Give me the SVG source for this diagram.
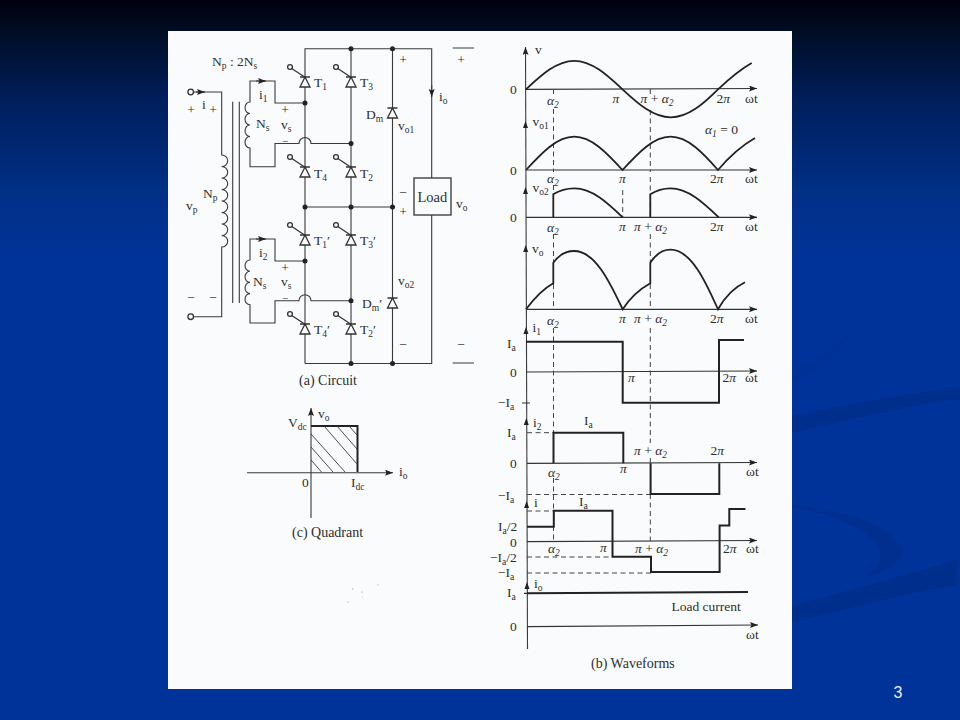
<svg xmlns="http://www.w3.org/2000/svg" xmlns:xlink="http://www.w3.org/1999/xlink" width="960" height="720" viewBox="0 0 960 720">
<style>
text{font-family:"Liberation Serif","DejaVu Serif",serif;font-size:13.5px;fill:#2e2e2e}
.b{font-size:9.5px}
.g{font-style:italic}
.c{font-size:14px}
.m{font-size:11px}
.w{fill:none;stroke:#3a3a3a;stroke-width:1.1}
.h{fill:none;stroke:#222;stroke-width:2}
.n{fill:none;stroke:#333;stroke-width:1.2}
.d{fill:none;stroke:#444;stroke-width:1;stroke-dasharray:5 3.5}
.dot{fill:#222}
.part{fill:#fafbfc;stroke:#333;stroke-width:1.3}
.sw{fill:#002e8c}
</style>
<defs>
<linearGradient id="bg" x1="0" y1="0" x2="0" y2="1">
<stop offset="0" stop-color="#00000f"/><stop offset=".03" stop-color="#000a1c"/><stop offset=".14" stop-color="#001f5c"/><stop offset=".27" stop-color="#003088"/><stop offset=".36" stop-color="#003399"/><stop offset="1" stop-color="#003399"/>
</linearGradient>
<marker id="ar" markerUnits="userSpaceOnUse" markerWidth="10" markerHeight="8" refX="8" refY="3" orient="auto"><path d="M0 0L8 3L0 6L1.5 3Z" fill="#222"/></marker>
<g id="dio"><path class="part" d="M-5 0H5M0 0L-5 10H5Z"/></g>
<g id="thy"><use xlink:href="#dio"/><circle class="part" cx="-15" cy="-10" r="2.4"/><path class="n" d="M-13.2 -8.6L1 1"/></g>
</defs>
<rect width="960" height="720" fill="url(#bg)"/>
<path class="sw" d="M792 372C815 362 840 345 856 323C850 345 825 368 792 380Z" opacity=".35"/>
<path class="sw" d="M792 416C850 404 900 394 960 388V399C900 406 850 420 792 433Z"/>
<path class="sw" d="M792 504C840 512 885 520 903 548C905 562 885 572 862 578C880 568 884 555 878 545C860 525 825 512 792 508Z" opacity=".7"/>
<path class="sw" d="M792 606C850 590 905 575 957 560V585C900 595 850 608 792 622Z"/>
<rect x="168" y="31" width="624" height="658" fill="#fafbfc"/>

<g id="connectors">
<path class="w" d="M431.7 178V48.7H305V207M351 48.7V207M392.5 48.7V207M305 207H392.5"/>
<path class="w" d="M392.5 207V363.5M305 207V363.5M351 207V363.5M305 363.5H431.7V215"/>
<path class="w" d="M191 92H221.7V155a6 5.75 0 0 1 0 11.5a6 5.75 0 0 1 0 11.5a6 5.75 0 0 1 0 11.5a6 5.75 0 0 1 0 11.5a6 5.75 0 0 1 0 11.5a6 5.75 0 0 1 0 11.5a6 5.75 0 0 1 0 11.5a6 5.75 0 0 1 0 11.5V316.7H191"/>
<path class="w" d="M232.7 101.7V303M239.3 101.7V303"/>
<path class="w" d="M305 103H275V81H250V102a5 5.75 0 0 0 0 11.5a5 5.75 0 0 0 0 11.5a5 5.75 0 0 0 0 11.5a5 5.75 0 0 0 0 11.5V166.7H275V143.5H299a6 6 0 0 1 12 0H351"/>
<path class="w" d="M305 261H275V239H250V260a5 5.6 0 0 0 0 11.2a5 5.6 0 0 0 0 11.2a5 5.6 0 0 0 0 11.2a5 5.6 0 0 0 0 11.2V323H275V300.7H299a6 6 0 0 1 12 0H351"/>
<path class="w" d="M452.7 48H474M452.7 363H474" />
<path class="w" d="M196 92H205" marker-end="url(#ar)"/>
<path class="w" d="M256 81H266" marker-end="url(#ar)"/>
<path class="w" d="M256 239H266" marker-end="url(#ar)"/>
<path class="w" d="M431.7 85V97" marker-end="url(#ar)"/>
</g>

<g id="n-t1"><use xlink:href="#thy" x="305" y="77"/></g>
<g id="n-t3"><use xlink:href="#thy" x="351" y="77"/></g>
<g id="n-t4"><use xlink:href="#thy" x="305" y="167"/></g>
<g id="n-t2"><use xlink:href="#thy" x="351" y="167"/></g>
<g id="n-t1p"><use xlink:href="#thy" x="305" y="235"/></g>
<g id="n-t3p"><use xlink:href="#thy" x="351" y="235"/></g>
<g id="n-t4p"><use xlink:href="#thy" x="305" y="324"/></g>
<g id="n-t2p"><use xlink:href="#thy" x="351" y="324"/></g>
<g id="n-dm"><use xlink:href="#dio" x="392.5" y="108"/></g>
<g id="n-dmp"><use xlink:href="#dio" x="392.5" y="298"/></g>
<g id="n-load"><rect class="part" x="414" y="178" width="37" height="37"/><text x="417.5" y="202" style="font-size:14.5px">Load</text></g>
<g id="n-terminals"><circle class="part" cx="190.7" cy="92" r="2.8"/><circle class="part" cx="190.7" cy="316.7" r="2.8"/></g>
<g id="n-dots" class="dot">
<circle cx="351" cy="48.7" r="2.5"/><circle cx="392.5" cy="48.7" r="2.5"/><circle cx="305" cy="103" r="2.5"/><circle cx="351" cy="143.5" r="2.5"/>
<circle cx="305" cy="207" r="2.5"/><circle cx="351" cy="207" r="2.5"/><circle cx="392.5" cy="207" r="2.5"/><circle cx="305" cy="261" r="2.5"/><circle cx="351" cy="300.7" r="2.5"/>
<circle cx="351" cy="363.5" r="2.5"/><circle cx="392.5" cy="363.5" r="2.5"/>
</g>

<g id="circuit-labels">
<text x="212" y="66">N<tspan class="b" dy="3">p</tspan><tspan dy="-3"> : 2N</tspan><tspan class="b" dy="3">s</tspan></text>
<text x="314" y="87">T<tspan class="b" dy="3">1</tspan></text><text x="360" y="87">T<tspan class="b" dy="3">3</tspan></text>
<text x="314" y="178">T<tspan class="b" dy="3">4</tspan></text><text x="360" y="178">T<tspan class="b" dy="3">2</tspan></text>
<text x="314" y="245">T<tspan class="b" dy="3">1</tspan><tspan dy="-3">′</tspan></text><text x="360" y="245">T<tspan class="b" dy="3">3</tspan><tspan dy="-3">′</tspan></text>
<text x="314" y="334">T<tspan class="b" dy="3">4</tspan><tspan dy="-3">′</tspan></text><text x="360" y="334">T<tspan class="b" dy="3">2</tspan><tspan dy="-3">′</tspan></text>
<text x="366" y="119">D<tspan class="b" dy="3">m</tspan></text><text x="398" y="130">v<tspan class="b" dy="3">o1</tspan></text>
<text x="362" y="308">D<tspan class="b" dy="3">m</tspan><tspan dy="-3">′</tspan></text><text x="398" y="285">v<tspan class="b" dy="3">o2</tspan></text>
<text x="439" y="101">i<tspan class="b" dy="3">o</tspan></text><text x="456" y="208">v<tspan class="b" dy="3">o</tspan></text>
<text x="403" y="64" text-anchor="middle">+</text><text x="461" y="64" text-anchor="middle">+</text>
<text x="403" y="197" text-anchor="middle">−</text><text x="403" y="216" text-anchor="middle">+</text>
<text x="403" y="349" text-anchor="middle">−</text><text x="461" y="349" text-anchor="middle">−</text>
<text x="259" y="99">i<tspan class="b" dy="3">1</tspan></text><text x="256" y="128">N<tspan class="b" dy="3">s</tspan></text>
<text x="285" y="114" text-anchor="middle">+</text><text x="281" y="129">v<tspan class="b" dy="3">s</tspan></text><text class="m" x="285" y="145" text-anchor="middle">−</text>
<text x="259" y="257">i<tspan class="b" dy="3">2</tspan></text><text x="253" y="286">N<tspan class="b" dy="3">s</tspan></text>
<text x="285" y="272" text-anchor="middle">+</text><text x="281" y="286">v<tspan class="b" dy="3">s</tspan></text><text class="m" x="285" y="302" text-anchor="middle">−</text>
<text x="191" y="114" text-anchor="middle">+</text><text x="202" y="109">i</text><text x="213" y="114" text-anchor="middle">+</text>
<text x="186" y="210">v<tspan class="b" dy="3">p</tspan></text><text x="203" y="198">N<tspan class="b" dy="3">p</tspan></text>
<text x="191" y="302" text-anchor="middle">−</text><text x="213" y="302" text-anchor="middle">−</text>
<text class="c" x="299" y="385">(a) Circuit</text>
</g>

<g id="quadrant">
<path class="w" d="M311 518V408" marker-end="url(#ar)"/>
<path class="w" d="M247 472.7H393" marker-end="url(#ar)"/>
<path class="h" d="M311 426H357.5V472"/>
<path class="w" style="stroke-width:.9" d="M311 434L345 472M311 447L333 472M311 460L321.5 472M324 426L357 464M337 426L357 449M349 426L357 435"/>
<text x="318" y="418">v<tspan class="b" dy="3">o</tspan></text>
<text x="288" y="427">V<tspan class="b" dy="3">dc</tspan></text>
<text x="399" y="476">i<tspan class="b" dy="3">o</tspan></text>
<text x="302" y="487">0</text>
<text x="351" y="487">I<tspan class="b" dy="3">dc</tspan></text>
<text class="c" x="292" y="537">(c) Quadrant</text>
</g>

<g id="waveforms">
<path class="w" d="M527.5 649L525.5 47" marker-end="url(#ar)"/>
<g class="axes">
<path class="n" d="M526 89.3L757 88.5" marker-end="url(#ar)"/>
<path class="n" d="M526 170H757" marker-end="url(#ar)"/>
<path class="n" d="M526 217.3H757" marker-end="url(#ar)"/>
<path class="n" d="M526 309.3H757" marker-end="url(#ar)"/>
<path class="n" d="M526 372L757 371" marker-end="url(#ar)"/>
<path class="n" d="M527 463.3L757 462.5" marker-end="url(#ar)"/>
<path class="n" d="M527 541.7L757 540.5" marker-end="url(#ar)"/>
<path class="n" d="M527 626.7L758 625" marker-end="url(#ar)"/>
<path class="n" d="M522 403H530M524 593.3H528"/>
</g>
<path fill="#222" d="M525.5 121l2.5 7h-5zM525.5 187l2.5 7h-5zM525.7 245l2.5 7h-5zM526 327l2.5 7h-5zM526.3 418l2.5 7h-5zM526.6 501l2.5 7h-5zM527 582l2.5 7h-5z"/>
<path class="d" d="M553.5 89V94M553.5 109V172M553.5 185V194M553.5 234V262M553.5 284V309M553.5 328V432M553.5 478V510M553.5 526V541"/>
<path class="d" d="M650.3 89V94M650.3 110V172M650.3 177V217M650.3 234V262M650.3 284V309M650.3 328V443M650.3 458V463M650.3 494V541"/>
<path class="d" d="M622.7 190V217"/>
<path class="d" d="M527 432.7H553M527 494.5H650M527 511H553M527 557H612M527 573H651"/>
<path class="h" d="M526 89.3c15.7-14.6 30.8-28.5 48.25-28.5c17.45 0 32.55 13.9 48.25 28.5c15.7 14.6 30.8 28 48.25 28c17.45 0 32.55-13.4 47.25-28C729 79 741 69 751.7 63" style="stroke-width:1.8"/>
<path class="h" d="M526 170c15.7-17 30.8-33.3 48.25-33.3c17.45 0 32.55 16.3 48.25 33.3c15.7-17 30.8-33.3 48-33.3c17.45 0 32.55 16.3 47.5 33.3C729 157 741 146 755 138" style="stroke-width:1.8"/>
<path class="h" d="M553.3 217.3V194.3C560 190 567 188.3 574.5 188.3c17.45 0 32.55 13.9 48.25 29M650.3 217.3V194.3C657 190 663 188.3 670.5 188.3c17.45 0 32.55 13.9 48.25 29" style="stroke-width:1.8"/>
<path class="h" d="M526 309.3C533 300 543 289 553.3 283.3V262.7C559 255 566 251 574 251C596 251 611 285 622.7 309.3C630 298 640 289 650.3 283.3V262.7C656 254 663 249.7 670.5 249.7C692 249.7 707 285 718 309.3C725 297 733 288 745 282.3" style="stroke-width:1.8"/>
<path class="h" d="M526 341.7H622.7V402.7H719V340H744"/>
<path class="h" d="M553.5 463.3V432.7H623.3V463.3M650.6 463.3V494H719.3V463.3"/>
<path class="h" d="M527 526.7H553.8V510.7H612.5V556.7H651V572H719.6V525.5H729.3V509H745.5"/>
<path class="h" d="M527 593.3L748 592"/>
<text x="535" y="54">v</text><text x="510" y="94">0</text>
<text class="g" x="547" y="105">α<tspan class="b" dy="3">2</tspan></text><text class="g" x="612.5" y="103">π</text>
<text class="g" x="640.5" y="103">π<tspan style="font-style:normal"> + </tspan>α<tspan class="b" dy="3">2</tspan></text>
<text x="716.5" y="103">2<tspan class="g">π</tspan></text><text x="745" y="103">ωt</text>
<text x="532.5" y="125.5">v<tspan class="b" dy="3">o1</tspan></text><text class="g" x="705" y="134">α<tspan class="b" dy="3">1</tspan><tspan style="font-style:normal" dy="-3"> = 0</tspan></text>
<text x="510" y="175">0</text><text class="g" x="547" y="183">α<tspan class="b" dy="3">2</tspan></text><text class="g" x="619" y="183">π</text><text x="710" y="183">2<tspan class="g">π</tspan></text><text x="745" y="183">ωt</text>
<text x="532.5" y="191.5">v<tspan class="b" dy="3">o2</tspan></text><text x="510" y="222">0</text>
<text class="g" x="547" y="231.5">α<tspan class="b" dy="3">2</tspan></text><text class="g" x="619" y="231">π</text><text class="g" x="634" y="231">π<tspan style="font-style:normal"> + </tspan>α<tspan class="b" dy="3">2</tspan></text><text x="710" y="231">2<tspan class="g">π</tspan></text><text x="745" y="231">ωt</text>
<text x="532" y="253">v<tspan class="b" dy="3">o</tspan></text>
<text class="g" x="547" y="325">α<tspan class="b" dy="3">2</tspan></text><text class="g" x="619" y="323">π</text><text class="g" x="634" y="323">π<tspan style="font-style:normal"> + </tspan>α<tspan class="b" dy="3">2</tspan></text><text x="710" y="323">2<tspan class="g">π</tspan></text><text x="745" y="323">ωt</text>
<text x="532.5" y="331.5">i<tspan class="b" dy="3">1</tspan></text><text x="507" y="348">I<tspan class="b" dy="3">a</tspan></text><text x="510" y="377">0</text><text class="g" x="628" y="381.5">π</text><text x="722.5" y="381.5">2<tspan class="g">π</tspan></text><text x="745" y="381.5">ωt</text>
<text x="498" y="406.5">−I<tspan class="b" dy="3">a</tspan></text>
<text x="533" y="426.5">i<tspan class="b" dy="3">2</tspan></text><text x="584" y="425">I<tspan class="b" dy="3">a</tspan></text><text x="507" y="437">I<tspan class="b" dy="3">a</tspan></text><text x="510" y="468">0</text>
<text class="g" x="548" y="476.5">α<tspan class="b" dy="3">2</tspan></text><text class="g" x="620" y="472.5">π</text><text class="g" x="634" y="455">π<tspan style="font-style:normal"> + </tspan>α<tspan class="b" dy="3">2</tspan></text><text x="710.5" y="455">2<tspan class="g">π</tspan></text><text x="746" y="476">ωt</text>
<text x="498" y="500">−I<tspan class="b" dy="3">a</tspan></text>
<text x="534" y="506.5">i</text><text x="579" y="506">I<tspan class="b" dy="3">a</tspan></text><text x="498" y="531">I<tspan class="b" dy="3">a</tspan><tspan dy="-3">/2</tspan></text><text x="510" y="546.5">0</text>
<text class="g" x="548" y="553">α<tspan class="b" dy="3">2</tspan></text><text class="g" x="600" y="551.5">π</text><text class="g" x="635" y="553">π<tspan style="font-style:normal"> + </tspan>α<tspan class="b" dy="3">2</tspan></text><text x="723" y="553">2<tspan class="g">π</tspan></text><text x="746" y="553">ωt</text>
<text x="490" y="561.5">−I<tspan class="b" dy="3">a</tspan><tspan dy="-3">/2</tspan></text><text x="498" y="577">−I<tspan class="b" dy="3">a</tspan></text>
<text x="534" y="588">i<tspan class="b" dy="3">o</tspan></text><text x="507" y="597">I<tspan class="b" dy="3">a</tspan></text><text x="671.5" y="610.5">Load current</text><text x="510" y="630.5">0</text><text x="746" y="639">ωt</text>
<text class="c" x="591" y="667.5">(b) Waveforms</text>
</g>
<g id="specks" fill="#888"><circle cx="352.7" cy="589" r=".6"/><circle cx="362" cy="592" r=".6"/><circle cx="348" cy="602" r=".6"/><circle cx="378" cy="585" r=".5"/><circle cx="362.7" cy="597" r=".4"/></g>
<text x="898" y="698" text-anchor="middle" style="font-family:'Liberation Sans',Arial,sans-serif;font-size:16px;fill:#e8f0ff">3</text>
</svg>
